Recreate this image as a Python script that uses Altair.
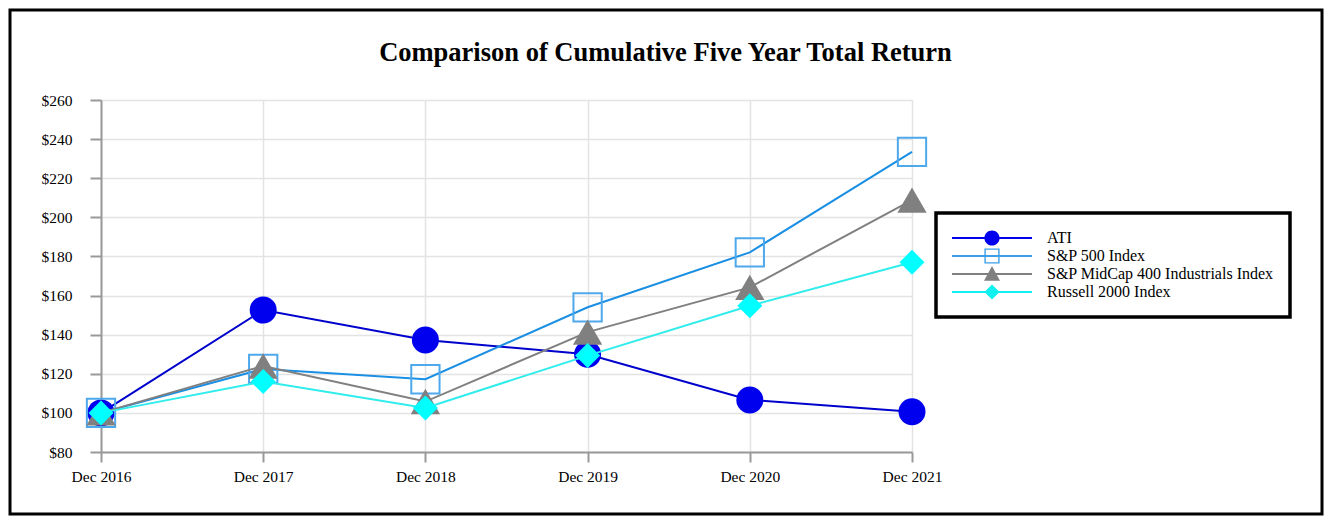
import altair as alt
import pandas as pd

years = ["Dec 2016", "Dec 2017", "Dec 2018", "Dec 2019", "Dec 2020", "Dec 2021"]
series_names = ["ATI", "S&P 500 Index", "S&P MidCap 400 Industrials Index", "Russell 2000 Index"]
ati = [100, 152.6, 137.3, 130.0, 106.6, 100.6]
sp500 = [100, 122.5, 117.2, 154.0, 182.1, 233.5]
midcap = [100, 124.0, 105.8, 141.3, 164.2, 208.8]
russell = [100, 116.0, 102.5, 129.3, 154.8, 177.0]
y_ticks = [80, 100, 120, 140, 160, 180, 200, 220, 240, 260]

values_by_series = [ati, sp500, midcap, russell]
rows = []
for name, vals in zip(series_names, values_by_series):
    for yr, v in zip(years, vals):
        rows.append({"year": yr, "series": name, "value": v})
df = pd.DataFrame(rows)

SERIF = "Liberation Serif"
W, H = 811, 352

styles = {
    "ATI": dict(line="#0000cc", shape="circle", size=729, filled=True, mcolor="#0000ee"),
    "S&P 500 Index": dict(line="#1a8fe3", shape="square", size=800, filled=False, mcolor="#4ea8ec"),
    "S&P MidCap 400 Industrials Index": dict(line="#808080", shape="triangle-up", size=860, filled=True, mcolor="#808080"),
    "Russell 2000 Index": dict(line="#30ecec", shape="diamond", size=625, filled=True, mcolor="#00ffff"),
}

x_enc = alt.X(
    "year:O", sort=years, scale=alt.Scale(type="point", padding=0),
    axis=alt.Axis(title=None, labelAngle=0, grid=True, labelFont=SERIF, labelFontSize=15.5,
                  labelColor="black", tickSize=10, tickColor="#999999", tickWidth=2,
                  domainColor="#999999", domainWidth=2, gridColor="#e3e3e3", gridWidth=1.5,
                  labelPadding=7),
)
y_enc = alt.Y(
    "value:Q", scale=alt.Scale(domain=[80, 260], nice=False, zero=False),
    axis=alt.Axis(title=None, values=y_ticks, labelExpr="'$' + datum.value", grid=True,
                  labelFont=SERIF, labelFontSize=15.5, labelColor="black", tickSize=11,
                  tickColor="#999999", tickWidth=2, domainColor="#999999", domainWidth=2,
                  gridColor="#e3e3e3", gridWidth=1.5, labelPadding=18),
)

base = alt.Chart(df)
layers = []

border = alt.Chart(alt.Data(values=[{"a": 1}])).mark_rect(
    fill="white", fillOpacity=0, stroke="black", strokeWidth=3
).encode(x=alt.value(-91), x2=alt.value(W + 410), y=alt.value(-90), y2=alt.value(H + 62))
layers.append(border)

for name in series_names:
    s = styles[name]
    flt = alt.datum.series == name
    line = base.mark_line(color=s["line"], strokeWidth=2).encode(x=x_enc, y=y_enc).transform_filter(flt)
    if s["filled"]:
        pt = base.mark_point(shape=s["shape"], size=s["size"], filled=True, color=s["mcolor"], opacity=1)
    else:
        pt = base.mark_point(shape=s["shape"], size=s["size"], filled=False, color=s["mcolor"],
                             strokeWidth=2, opacity=1)
    pt = pt.encode(x=x_enc, y=y_enc).transform_filter(flt)
    layers += [line, pt]

# legend symbols: line through marker, in [-1, 1] unit coords (80 px wide)
legend_paths = [
    "M-1,-0.022H-0.189V0.022H-1Z M0.189,-0.022H1V0.022H0.189Z "
    "M-0.19,0A0.19,0.19 0 1,1 0.19,0A0.19,0.19 0 1,1 -0.19,0Z",
    "M-1,-0.022H-0.19V0.022H-1Z M0.19,-0.022H1V0.022H0.19Z "
    "M-0.19,-0.19H0.19V0.19H-0.19Z M-0.155,-0.155V0.155H0.155V-0.155Z "
    "M-0.155,-0.022H0.155V0.022H-0.155Z",
    "M-1,-0.022H-0.1V0.022H-1Z M0.1,-0.022H1V0.022H0.1Z M0,-0.2L0.2,0.17H-0.2Z",
    "M-1,-0.022H-0.17V0.022H-1Z M0.17,-0.022H1V0.022H0.17Z M0,-0.19L0.19,0L0,0.19L-0.19,0Z",
]
legend_colors = ["#0000ee", "#3a9fe8", "#808080", "#10f0f0"]

leg = alt.Legend(
    title=None, orient="none", legendX=835, legendY=113, padding=16, clipHeight=18,
    rowPadding=0, symbolSize=6400, symbolStrokeWidth=0, symbolOpacity=1, labelOffset=15,
    labelFont=SERIF, labelFontSize=16, labelColor="black", strokeColor="black",
    fillColor="white", labelLimit=400,
)
legend_layer = base.mark_point(filled=True, size=6400).encode(
    shape=alt.Shape("series:N", scale=alt.Scale(domain=series_names, range=legend_paths), legend=leg),
    fill=alt.Fill("series:N", scale=alt.Scale(domain=series_names, range=legend_colors), legend=leg),
).transform_filter("datum.value < 0")
layers.append(legend_layer)

chart = alt.layer(*layers).properties(
    width=W, height=H,
    autosize=alt.AutoSizeParams(type="none"),
    padding={"left": 93, "top": 92, "right": 412, "bottom": 64},
    title=alt.Title("Comparison of Cumulative Five Year Total Return", font=SERIF, fontSize=26.5,
                    fontWeight="bold", color="black", dx=159, dy=84, offset=26),
    background="white",
).configure_view(strokeWidth=0).configure_legend(strokeWidth=3.5)

chart.save("out.html", embed_options={"renderer": "svg", "actions": False})
